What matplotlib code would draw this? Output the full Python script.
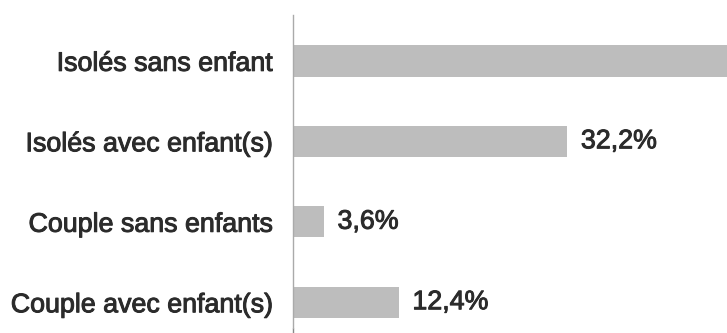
import numpy as np
import matplotlib.pyplot as plt
import matplotlib.patheffects as pe

# ----------------------------------------------------------------------------------------------------------------------
categories = ["Isolés sans enfant", "Isolés avec enfant(s)", "Couple sans enfants", "Couple avec enfant(s)"]
shares = [51.8, 32.2, 3.6, 12.4]
share_labels = ["51,8%", "32,2%", "3,6%", "12,4%"]
# ----------------------------------------------------------------------------------------------------------------------

plt.rcParams["font.family"] = ["Liberation Sans", "DejaVu Sans"]
TXT = "#2b2b2b"
heavy = [pe.withStroke(linewidth=0.7, foreground=TXT)]

fig = plt.figure(figsize=(7.27, 3.33), dpi=100)
ax = fig.add_axes([0.403, 0.015, 0.597, 0.94])

y_pos = np.arange(len(categories))
bars = ax.barh(y_pos, shares, height=0.39, color="#bdbdbd", edgecolor="none")

# Value labels, clipped so the long top bar keeps its label out of view
texts = ax.bar_label(bars, labels=share_labels, padding=10, fontsize=19.3, color=TXT)
for t in texts:
    t.set_clip_on(True)
    t.set_path_effects(heavy)

ax.set_xlim(0, 51.0)
ax.set_ylim(3.32, -0.57)

ax.set_yticks(y_pos)
ax.set_yticklabels(categories, fontsize=19.3, color=TXT)
for lbl in ax.get_yticklabels():
    lbl.set_path_effects(heavy)
ax.tick_params(axis="y", length=0, pad=15)
ax.set_xticks([0])
ax.set_xticklabels([""])
ax.tick_params(axis="x", length=4, color="#888888", width=1)

for side in ["top", "right", "bottom"]:
    ax.spines[side].set_visible(False)
ax.spines["left"].set_color("#aaaaaa")
ax.spines["left"].set_linewidth(1)

fig.savefig("out.png", dpi=100)
